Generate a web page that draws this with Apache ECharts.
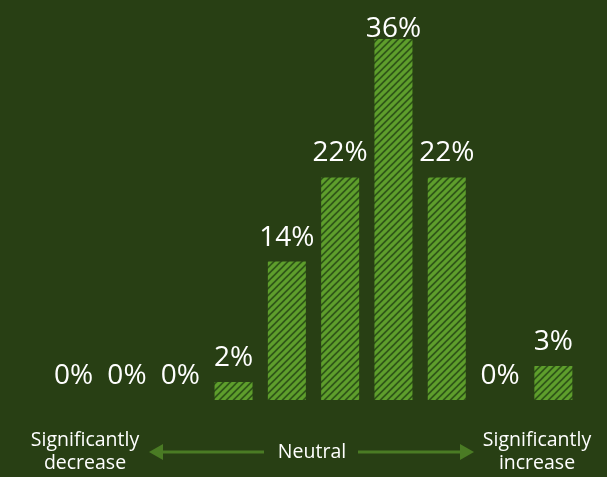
<!DOCTYPE html>
<html>
<head>
<meta charset="utf-8">
<script src="https://cdn.jsdelivr.net/npm/echarts@6/dist/echarts.min.js"></script>
<style>
html,body{margin:0;padding:0;background:#283f14;}
#chart{width:607px;height:477px;}
</style>
</head>
<body>
<div id="chart"></div>
<script>
// Data
var categories = ['1', '2', '3', '4', '5', '6', '7', '8', '9', '10'];
var values = [0, 0, 0, 1.8, 13.8, 22.2, 36, 22.2, 0, 3.4];
var leftLabel = ['Significantly', 'decrease'];
var midLabel = 'Neutral';
var rightLabel = ['Significantly', 'increase'];

// hatch pattern
function makePattern() {
  var s = 7;
  var c = document.createElement('canvas');
  c.width = s; c.height = s;
  var ctx = c.getContext('2d');
  ctx.fillStyle = '#2f5618';
  ctx.fillRect(0, 0, s, s);
  ctx.strokeStyle = '#5e9e2c';
  ctx.lineWidth = 3.2;
  ctx.beginPath();
  for (var k = -1; k <= 1; k++) {
    ctx.moveTo(k * s - 1, s + 1);
    ctx.lineTo(k * s + s + 1, -1);
  }
  ctx.stroke();
  return c;
}

var maxVal = Math.max.apply(null, values);
// the tallest bar's label is kept inside the plot, as in the original
var seriesData = values.map(function (v) {
  return v === maxVal ? { value: v, label: { offset: [0, 14] } } : v;
});

var chart = echarts.init(document.getElementById('chart'));
var fontFam = '"Open Sans", "Noto Sans", sans-serif';
var arrowColor = '#4a7b24';
function txt(t, x, y) {
  return { type: 'text', x: x, y: y, style: { text: t, fill: '#ffffff', font: '19.5px ' + fontFam, align: 'center', verticalAlign: 'middle' } };
}
chart.setOption({
  backgroundColor: '#283f14',
  animation: false,
  grid: { left: 47, right: 27, top: 39, bottom: 77 },
  xAxis: {
    type: 'category', data: categories,
    axisLine: { show: false }, axisTick: { show: false }, axisLabel: { show: false }
  },
  yAxis: {
    type: 'value', min: 0, max: maxVal, show: false
  },
  series: [{
    type: 'bar',
    data: seriesData,
    barWidth: 38,
    itemStyle: { color: { image: makePattern(), repeat: 'repeat' } },
    label: {
      show: true, position: 'top', distance: 10,
      color: '#ffffff', fontSize: 28, fontFamily: fontFam,
      formatter: function (p) { return Math.round(p.value) + '%'; }
    }
  }],
  graphic: [
    txt(leftLabel[0], 85, 440), txt(leftLabel[1], 85, 463),
    txt(midLabel, 312, 452),
    txt(rightLabel[0], 537, 440), txt(rightLabel[1], 537, 463),
    { type: 'line', shape: { x1: 160, y1: 452, x2: 264, y2: 452 }, style: { stroke: arrowColor, lineWidth: 3 } },
    { type: 'polygon', shape: { points: [[149, 452], [163, 444], [163, 460]] }, style: { fill: arrowColor } },
    { type: 'line', shape: { x1: 358, y1: 452, x2: 462, y2: 452 }, style: { stroke: arrowColor, lineWidth: 3 } },
    { type: 'polygon', shape: { points: [[474, 452], [460, 444], [460, 460]] }, style: { fill: arrowColor } }
  ]
});
</script>
</body>
</html>
